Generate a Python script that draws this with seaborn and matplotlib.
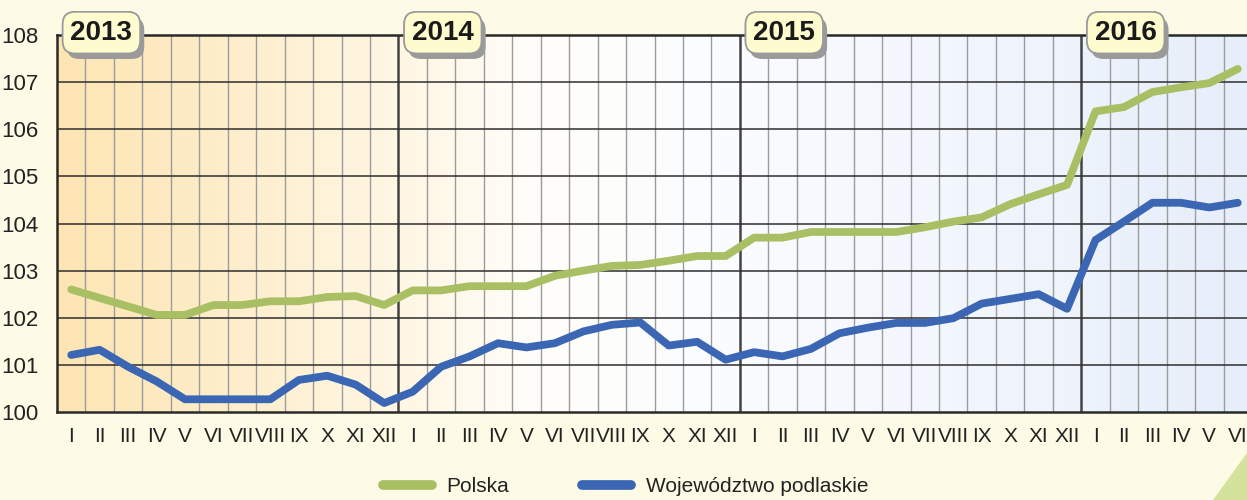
import numpy as np
import pandas as pd
import matplotlib.pyplot as plt
import seaborn as sns
from matplotlib.colors import LinearSegmentedColormap
from matplotlib.patches import Polygon
import matplotlib.patheffects as pe

# Monthly index values, 2013 I - 2016 VI
years = ['2013', '2014', '2015', '2016']
months = ['I', 'II', 'III', 'IV', 'V', 'VI', 'VII', 'VIII', 'IX', 'X', 'XI', 'XII']
polska = [102.60, 102.42, 102.24, 102.06, 102.06, 102.27, 102.27, 102.35, 102.35, 102.44, 102.46, 102.27,
          102.58, 102.58, 102.67, 102.67, 102.67, 102.89, 103.00, 103.10, 103.12, 103.21, 103.31, 103.31,
          103.70, 103.70, 103.82, 103.82, 103.82, 103.82, 103.92, 104.04, 104.13, 104.41, 104.62, 104.82,
          106.38, 106.47, 106.79, 106.89, 106.98, 107.28]
podlaskie = [101.21, 101.32, 100.96, 100.65, 100.27, 100.27, 100.27, 100.27, 100.68, 100.77, 100.58, 100.19,
             100.43, 100.96, 101.18, 101.46, 101.37, 101.46, 101.71, 101.85, 101.90, 101.41, 101.49, 101.11,
             101.27, 101.18, 101.34, 101.67, 101.79, 101.89, 101.89, 101.99, 102.30, 102.40, 102.50, 102.19,
             103.65, 104.04, 104.44, 104.44, 104.34, 104.44]
series_names = ['Polska', 'Województwo podlaskie']
colors = ['#a9bf64', '#3a66b4']

n = len(polska)
month_labels = (months * 4)[:n]

df = pd.DataFrame({
    'x': np.tile(np.arange(n), 2),
    'value': polska + podlaskie,
    'series': [series_names[0]] * n + [series_names[1]] * n,
})

sns.set_style('white')
plt.rcParams['font.family'] = ['Liberation Sans', 'DejaVu Sans']

fig = plt.figure(figsize=(12.47, 5), dpi=100)
fig.patch.set_facecolor('#fdfbe6')
ax = fig.add_axes([57 / 1247, 88 / 500, 1195 / 1247, 377 / 500])
ax.grid(False, which='both')

# background gradient
grad = LinearSegmentedColormap.from_list('bg', [
    (0.0, '#fde5b3'), (0.28, '#fff6e3'), (0.40, '#fffefa'),
    (0.55, '#fbfcff'), (0.85, '#eef3fc'), (1.0, '#e6eefa')])
ax.imshow(np.linspace(0, 1, 1200).reshape(1, -1), cmap=grad, aspect='auto',
          interpolation='bilinear', extent=(-0.5, n - 0.5, 100, 108), zorder=0)

# grid
for k in range(1, n):
    b = k - 0.5
    if k % 12 == 0:
        ax.axvline(b, color='#444444', lw=1.8, zorder=2)
    else:
        ax.axvline(b, color='#9c9c9c', lw=1.0, zorder=1)
for yv in range(101, 108):
    ax.axhline(yv, color='#2e2e2e', lw=1.1, zorder=2)

sns.lineplot(data=df, x='x', y='value', hue='series', palette=colors,
             hue_order=series_names, lw=5.6, ax=ax, zorder=5,
             solid_capstyle='round', solid_joinstyle='round')

ax.set_xlim(-0.5, n - 0.5)
ax.set_ylim(100, 108)
ax.set_yticks(range(100, 109))
ax.set_xticks(np.arange(n + 1) - 0.5)
ax.set_xticklabels([])
ax.set_xticks(np.arange(n), minor=True)
ax.set_xticklabels(month_labels, minor=True, fontsize=15, color='#222222')
ax.tick_params(axis='x', which='major', length=10, width=1.5, color='#222222', direction='out')
ax.tick_params(axis='x', which='minor', length=0, pad=11)
ax.tick_params(axis='y', length=10, width=1.5, color='#222222', labelsize=16,
               labelcolor='#222222', pad=3, direction='out')
ax.set_xlabel('')
ax.set_ylabel('')
for s in ['left', 'top', 'bottom']:
    ax.spines[s].set_color('#2a2a2a')
    ax.spines[s].set_linewidth(1.8)
ax.spines['right'].set_visible(False)

# year badges
for i, yr in enumerate(years):
    t = ax.text(i * 12 + 1.06, 108.05, yr, ha='center', va='center', fontsize=20,
                fontweight='bold', color='#1a1a1a', zorder=10,
                bbox=dict(boxstyle='round,pad=0.28,rounding_size=0.45',
                          fc='#fefccf', ec='#9a9a9a', lw=1.2))
    t.get_bbox_patch().set_path_effects([
        pe.withSimplePatchShadow(offset=(3, -4), shadow_rgbFace='#9a9a9a', alpha=1.0),
        pe.Normal()])

# legend
handles, labels = ax.get_legend_handles_labels()
ax.get_legend().remove()
leg = fig.legend(handles, labels, loc='center left', bbox_to_anchor=(383 / 1247, 0.026),
                 ncol=2, frameon=False, fontsize=15, handlelength=2.35,
                 handletextpad=0.7, columnspacing=3.5, borderpad=0, borderaxespad=0)
for line in leg.get_lines():
    line.set_linewidth(7)
    line.set_solid_capstyle('round')
for txt in leg.get_texts():
    txt.set_color('#222222')

# decorative corner
fig.patches.append(Polygon([[1.0, 0.094], [1213 / 1247, 0.0], [1.0, 0.0]],
                           closed=True, transform=fig.transFigure,
                           fc='#d4e39b', ec='none', zorder=0))

fig.savefig('out.png', dpi=100, facecolor=fig.get_facecolor())
